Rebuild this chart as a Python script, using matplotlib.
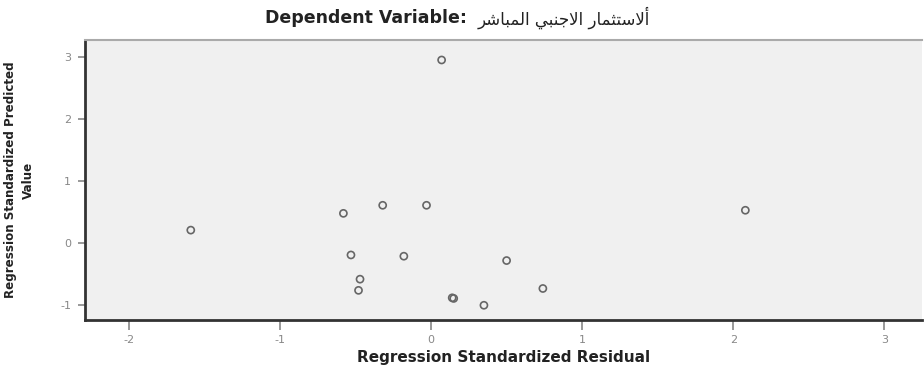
import matplotlib.pyplot as plt

plt.rcParams['axes.unicode_minus'] = False

# residuals (x) and predicted values (y)
residual = [0.07, -1.59, -0.58, -0.32, -0.03, 2.08, -0.53, -0.18, 0.50,
            -0.47, -0.48, 0.14, 0.15, 0.35, 0.74]
predicted = [2.95, 0.21, 0.48, 0.61, 0.61, 0.53, -0.19, -0.21, -0.28,
             -0.58, -0.76, -0.88, -0.89, -1.00, -0.73]
x_ticks = [-2, -1, 0, 1, 2, 3]
y_ticks = [-1, 0, 1, 2, 3]

# Arabic presentation forms (logical order), matplotlib does no shaping/bidi
words = [
    "\uFE83\uFEFB\uFEB3\uFE98\uFE9C\uFEE4\uFE8E\uFEAD",  # ألاستثمار
    "\uFE8D\uFEFB\uFE9F\uFEE8\uFE92\uFEF2",              # الاجنبي
    "\uFE8D\uFEDF\uFEE4\uFE92\uFE8E\uFEB7\uFEAE",        # المباشر
]
arabic = " ".join(words)[::-1]

fig = plt.figure(figsize=(9.24, 3.68), dpi=100)
ax = fig.add_axes([0.092, 0.130, 0.906, 0.761])
ax.set_facecolor('#f0f0f0')

ax.scatter(residual, predicted, s=26, facecolors='none', edgecolors='#666666',
           linewidths=1.2, zorder=3)

ax.set_xlim(-2.29, 3.25)
ax.set_ylim(-1.24, 3.27)
ax.set_xticks(x_ticks)
ax.set_yticks(y_ticks)
ax.tick_params(axis='both', colors='#888888', labelsize=8, width=1.2)
ax.tick_params(axis='x', length=7, pad=4)
ax.tick_params(axis='y', length=5, pad=5)

for side in ['left', 'bottom']:
    ax.spines[side].set_color('#333333')
    ax.spines[side].set_linewidth(2)
ax.spines['top'].set_color('#aaaaaa')
ax.spines['top'].set_linewidth(1.5)
ax.spines['right'].set_visible(False)

ax.set_xlabel("Regression Standardized Residual", fontsize=11,
              fontweight='bold', color='#222222', labelpad=3)
ax.set_ylabel("Regression Standardized Predicted\nValue", fontsize=8.6,
              fontweight='bold', color='#222222', linespacing=1.5,
              labelpad=18)

fig.text(0.505, 0.951, "Dependent Variable:", fontsize=12.5, fontweight='bold',
         color='#222222', va='center', ha='right')
fig.text(0.517, 0.951, arabic, fontsize=12, color='#222222', va='center',
         ha='left', family=['DejaVu Sans'])

plt.savefig('out.png', dpi=100)
